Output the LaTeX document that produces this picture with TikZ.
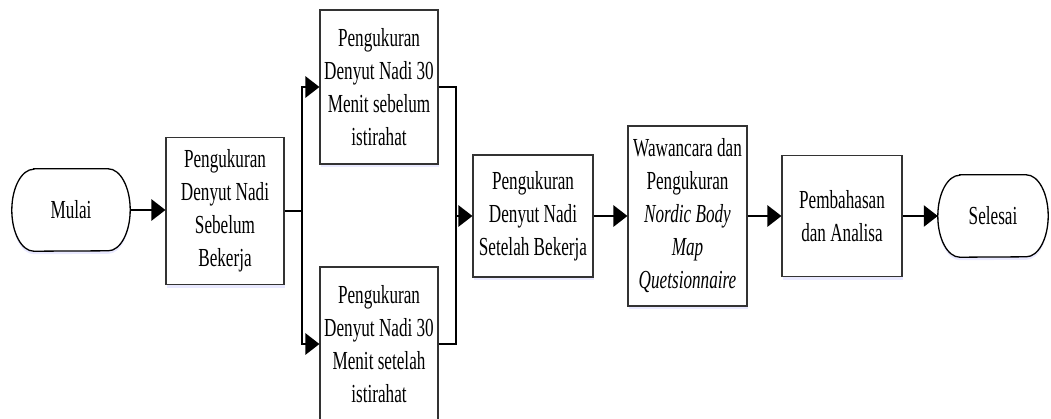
\documentclass[tikz,border=0pt]{standalone}
\usepackage{fontspec}
\setmainfont{Liberation Serif}[FakeStretch=0.66]
\usetikzlibrary{positioning}
\usetikzlibrary{arrows.meta}
\usetikzlibrary{shadows}

\begin{document}
\begin{tikzpicture}[x=1pt, y=-1pt,
		box/.style={draw=black!80, line width=1.1pt, fill=white, inner sep=0pt, align=center,
			font=\fontsize{26}{33}\selectfont,
			drop shadow={shadow xshift=1pt, shadow yshift=-3pt, fill=blue!25, opacity=.35}},
		term/.style={inner sep=0pt, align=center, font=\fontsize{26}{33}\selectfont},
		link/.style={line width=2.6pt},
		arr/.style={line width=2.6pt, -{Triangle[length=14pt, width=21pt]}}]
	\useasboundingbox (0,0) rectangle (1051,418);
	\node[term, minimum width=118pt, minimum height=82pt] (mulai) at (71,210) {Mulai};
	\node[box, minimum width=118pt, minimum height=147pt] (pre) at (225,211) {Pengukuran\\Denyut Nadi\\Sebelum\\Bekerja};
	\node[box, minimum width=118pt, minimum height=154pt] (top) at (379,87) {Pengukuran\\Denyut Nadi 30\\Menit sebelum\\istirahat};
	\node[box, minimum width=118pt, minimum height=154pt] (bot) at (379,344) {Pengukuran\\Denyut Nadi 30\\Menit setelah\\istirahat};
	\node[box, minimum width=120pt, minimum height=122pt] (post) at (533,216) {Pengukuran\\Denyut Nadi\\Setelah Bekerja};
	\node[box, minimum width=119pt, minimum height=180pt] (nbm) at (687.5,216) {Wawancara dan\\Pengukuran\\\textit{Nordic Body}\\\textit{Map}\\\textit{Quetsionnaire}};
	\node[box, minimum width=120pt, minimum height=121pt] (bahas) at (842,216) {Pembahasan\\dan Analisa};
	\node[term, minimum width=110pt, minimum height=82pt] (selesai) at (993,216) {Selesai};
	\coordinate (split) at (302,211);
	\coordinate (join) at (456,216);
	\begin{scope}[line width=1.3pt]
		\fill[blue!25, opacity=.35] ([xshift=22pt, yshift=-3pt]mulai.north west) -- ([xshift=-22pt, yshift=-3pt]mulai.north east)
			arc[start angle=90, end angle=-90, x radius=22pt, y radius=41pt] -- ([xshift=22pt, yshift=-3pt]mulai.south west)
			arc[start angle=270, end angle=90, x radius=22pt, y radius=41pt] -- cycle;
		\fill[blue!25, opacity=.35] ([xshift=22pt, yshift=-3pt]selesai.north west) -- ([xshift=-22pt, yshift=-3pt]selesai.north east)
			arc[start angle=90, end angle=-90, x radius=22pt, y radius=41pt] -- ([xshift=22pt, yshift=-3pt]selesai.south west)
			arc[start angle=270, end angle=90, x radius=22pt, y radius=41pt] -- cycle;
		\draw[fill=white] ([xshift=22pt]mulai.north west) -- ([xshift=-22pt]mulai.north east)
			arc[start angle=90, end angle=-90, x radius=22pt, y radius=41pt] -- ([xshift=22pt]mulai.south west)
			arc[start angle=270, end angle=90, x radius=22pt, y radius=41pt] -- cycle;
		\draw[fill=white] ([xshift=22pt]selesai.north west) -- ([xshift=-22pt]selesai.north east)
			arc[start angle=90, end angle=-90, x radius=22pt, y radius=41pt] -- ([xshift=22pt]selesai.south west)
			arc[start angle=270, end angle=90, x radius=22pt, y radius=41pt] -- cycle;
	\end{scope}
	\node[term] at (mulai) {Mulai};
	\node[term] at (selesai) {Selesai};
	\draw[arr] (mulai.east) -- (mulai.east -| pre.west);
	\draw[link] (pre.east |- split) -- (split);
	\draw[arr] (split) |- (top.west);
	\draw[arr] (split) |- (bot.west);
	\draw[link] (top.east) -| (join);
	\draw[link] (bot.east) -| (join);
	\draw[arr] (join) -- (post.west);
	\draw[arr] (post.east) -- (nbm.west);
	\draw[arr] (nbm.east) -- (bahas.west);
	\draw[arr] (bahas.east) -- (selesai.west);
\end{tikzpicture}
\end{document}
